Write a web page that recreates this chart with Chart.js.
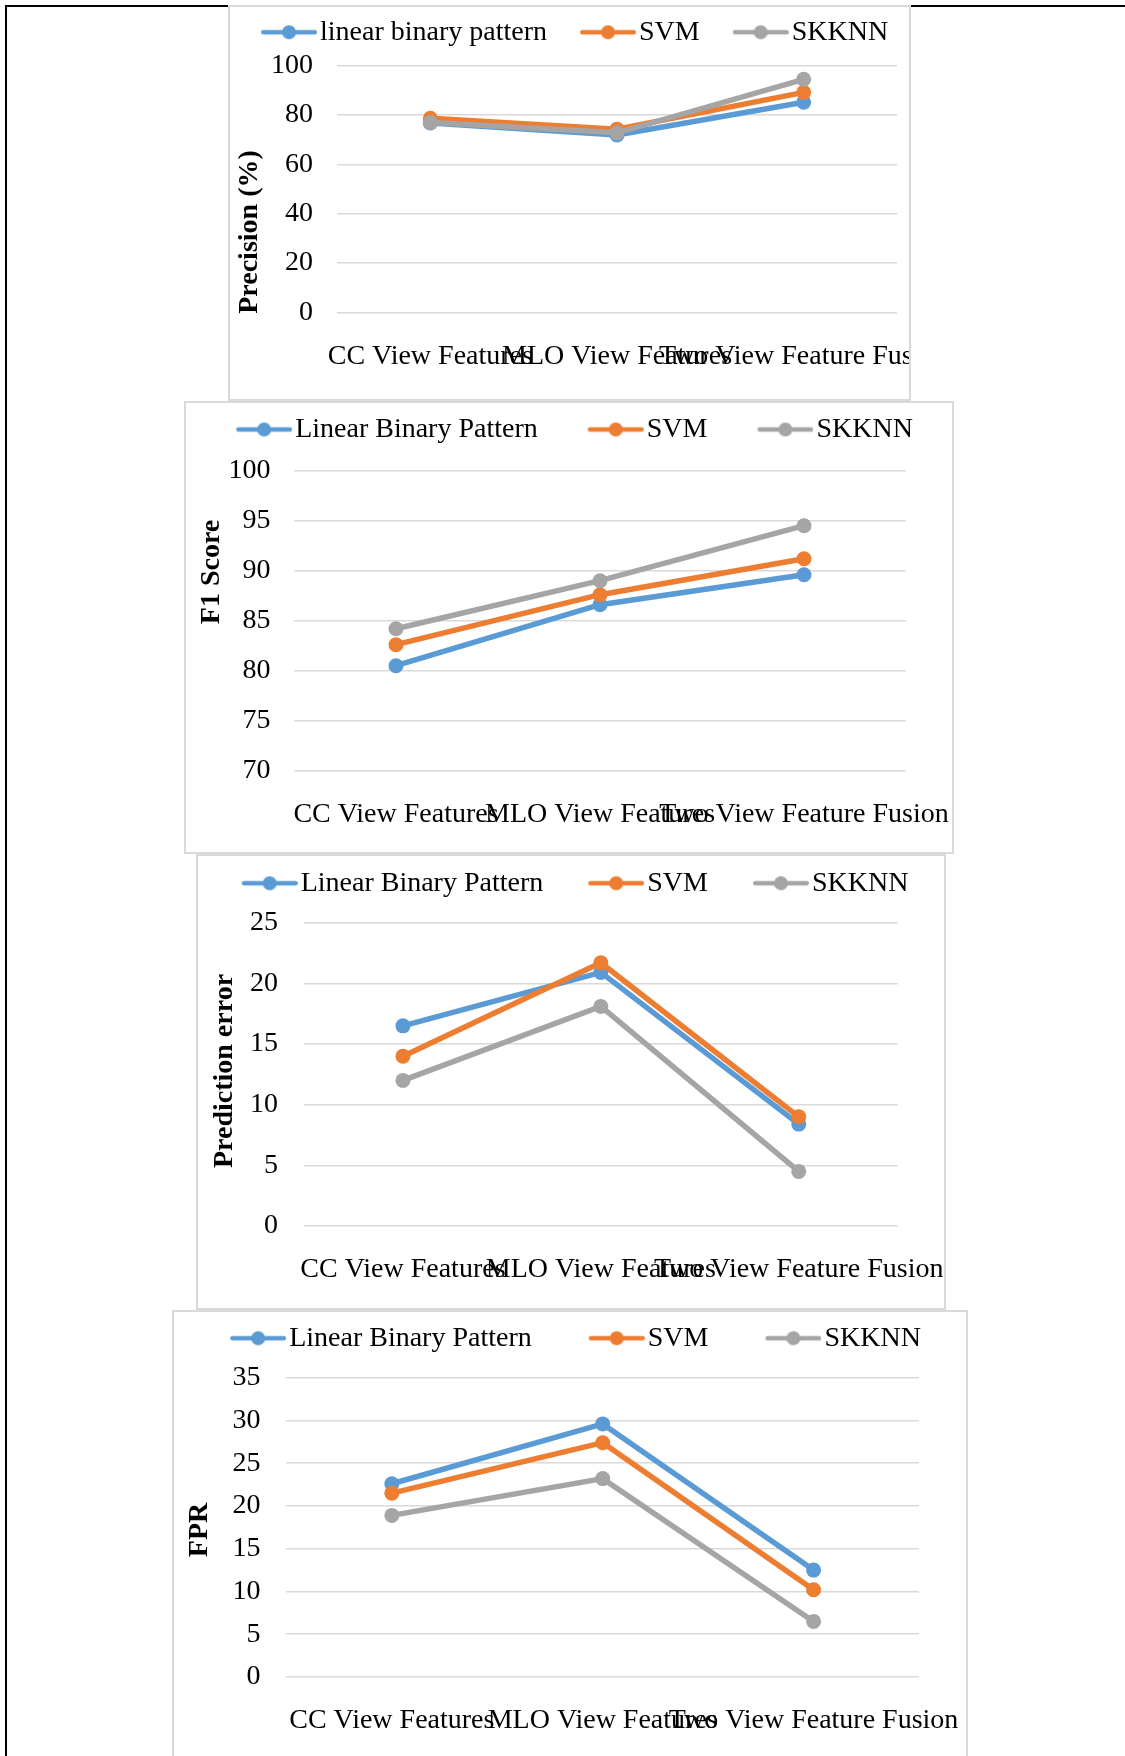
<!DOCTYPE html>
<html>
<head>
<meta charset="utf-8">
<script src="https://cdn.jsdelivr.net/npm/chart.js@4"></script>
<style>
html, body { margin: 0; padding: 0; background: #fff; }
body { width: 1125px; height: 1756px; position: relative; overflow: hidden; }
.rule-top { position: absolute; left: 5px; top: 5px; width: 1120px; height: 2px; background: #000; }
.rule-left { position: absolute; left: 5px; top: 5px; width: 2px; height: 1751px; background: #000; }
.box { position: absolute; background: #fff; border: 2px solid #d9d9d9; }
.box canvas { display: block; }
</style>
</head>
<body>
<div class="rule-top"></div>
<div class="rule-left"></div>
<div class="box" style="left:228px;top:5px;"><canvas id="c1" width="679" height="392"></canvas></div>
<div class="box" style="left:184px;top:401px;"><canvas id="c2" width="766" height="449"></canvas></div>
<div class="box" style="left:196px;top:854px;"><canvas id="c3" width="746" height="452"></canvas></div>
<div class="box" style="left:172px;top:1310px;"><canvas id="c4" width="792" height="456"></canvas></div>
<script>
// data
const categories = ['CC View Features', 'MLO View Features', 'Two View Feature Fusion'];
const namesLower = ['linear binary pattern', 'SVM', 'SKKNN'];
const names = ['Linear Binary Pattern', 'SVM', 'SKKNN'];

const precisionLBP = [76.8, 71.9, 85.2];
const precisionSVM = [78.7, 74.3, 89.2];
const precisionSKKNN = [77.0, 72.8, 94.5];
const precisionTicks = [0, 20, 40, 60, 80, 100];

const f1LBP = [80.5, 86.6, 89.6];
const f1SVM = [82.6, 87.6, 91.2];
const f1SKKNN = [84.2, 89.0, 94.5];
const f1Ticks = [70, 75, 80, 85, 90, 95, 100];

const errLBP = [16.5, 20.9, 8.4];
const errSVM = [14.0, 21.7, 9.0];
const errSKKNN = [12.0, 18.1, 4.5];
const errTicks = [0, 5, 10, 15, 20, 25];

const fprLBP = [22.6, 29.6, 12.5];
const fprSVM = [21.5, 27.4, 10.2];
const fprSKKNN = [18.9, 23.2, 6.5];
const fprTicks = [0, 5, 10, 15, 20, 25, 30, 35];

const FONT = '"Liberation Serif", "Times New Roman", serif';
const FS = 28;
const COLORS = ['#5B9BD5', '#ED7D31', '#A5A5A5'];

// line + dot legend marker; drawn in the right part of a wide icon so the
// gap before the text stays small and the gap between entries comes from bw
function legendIcon(color, bw) {
  const c = document.createElement('canvas');
  c.width = bw + 22; c.height = 16;
  const g = c.getContext('2d');
  const x0 = bw - 34, x1 = bw + 22;
  g.strokeStyle = color;
  g.lineWidth = 4.5;
  g.lineCap = 'round';
  g.beginPath(); g.moveTo(x0 + 2.25, 8); g.lineTo(x1 - 2.25, 8); g.stroke();
  g.fillStyle = color;
  g.beginPath(); g.arc((x0 + x1) / 2, 8, 7, 0, Math.PI * 2); g.fill();
  return c;
}

const yTitlePlugin = {
  id: 'yTitle',
  afterDraw(chart, args, opts) {
    const ctx = chart.ctx;
    ctx.save();
    ctx.translate(opts.x, opts.y);
    ctx.rotate(-Math.PI / 2);
    ctx.font = 'bold ' + FS + 'px ' + FONT;
    ctx.fillStyle = '#000';
    ctx.textAlign = 'center';
    ctx.textBaseline = 'middle';
    ctx.fillText(opts.text, 0, 0);
    ctx.restore();
  }
};

function makeChart(canvasId, spec) {
  const cv = document.getElementById(canvasId);
  const W = cv.width, H = cv.height;
  const p = spec.plot;
  const t = spec.yTicks;
  const bw = spec.legendGap + 45;
  const icons = COLORS.map(c => legendIcon(c, bw));
  const padL = 2 * (spec.legendCenter - spec.legendGap / 2) - W;
  const padT = spec.legendY - FS / 2;
  // empty title block used as a spacer between legend and plot
  const spacer = p.top - padT - (FS + 10);
  return new Chart(cv, {
    type: 'line',
    data: {
      labels: categories,
      datasets: spec.series.map((vals, i) => ({
        label: spec.names[i],
        data: vals,
        borderColor: COLORS[i],
        backgroundColor: COLORS[i],
        pointBackgroundColor: COLORS[i],
        pointBorderColor: COLORS[i],
        borderWidth: 5.5,
        pointRadius: 7.5,
        pointBorderWidth: 0,
        tension: 0,
        fill: false,
        order: 3 - i
      }))
    },
    options: {
      responsive: false,
      animation: false,
      devicePixelRatio: 1,
      layout: {
        padding: { left: padL, right: 0, top: padT, bottom: 0 }
      },
      plugins: {
        tooltip: { enabled: false },
        title: {
          display: true, text: '', weight: 2000,
          font: { size: 1 }, padding: { top: 0, bottom: spacer - 1.2 }
        },
        legend: {
          position: 'top',
          weight: 3000,
          labels: {
            usePointStyle: true,
            pointStyleWidth: bw,
            padding: 0,
            color: '#000',
            font: { family: FONT, size: FS },
            sort: (a, b) => a.datasetIndex - b.datasetIndex,
            generateLabels(chart) {
              const items = Chart.defaults.plugins.legend.labels.generateLabels(chart);
              items.forEach(it => { it.pointStyle = icons[it.datasetIndex]; });
              return items;
            }
          }
        },
        yTitle: spec.title
      },
      scales: {
        x: {
          offset: true,
          grid: { display: false },
          border: { display: false },
          ticks: {
            autoSkip: false, maxRotation: 0, minRotation: 0, padding: 19,
            color: '#000', font: { family: FONT, size: FS }
          },
          afterFit(s) { s.paddingLeft = 0; s.paddingRight = W - p.right; s.height = H - p.bottom; }
        },
        y: {
          min: t[0],
          max: t[t.length - 1],
          ticks: {
            stepSize: t[1] - t[0], autoSkip: false, padding: spec.tickGap,
            color: '#000', font: { family: FONT, size: FS }
          },
          grid: { color: '#d9d9d9', lineWidth: 1.5, drawTicks: false },
          border: { display: false },
          afterFit(s) { s.width = p.left - padL; s.paddingTop = 0; s.paddingBottom = H - p.bottom; }
        }
      }
    },
    plugins: [yTitlePlugin]
  });
}

makeChart('c1', {
  names: namesLower,
  series: [precisionLBP, precisionSVM, precisionSKKNN],
  yTicks: precisionTicks,
  plot: { left: 107, right: 667, top: 58.7, bottom: 305.5 },
  legendGap: 33, legendY: 25.2, legendCenter: 344.6, tickGap: 24,
  title: { text: 'Precision (%)', x: 20, y: 225 }
});
makeChart('c2', {
  names: names,
  series: [f1LBP, f1SVM, f1SKKNN],
  yTicks: f1Ticks,
  plot: { left: 108, right: 720, top: 67.7, bottom: 367.7 },
  legendGap: 50, legendY: 26.5, legendCenter: 388.5, tickGap: 23.5,
  title: { text: 'F1 Score', x: 26, y: 169 }
});
makeChart('c3', {
  names: names,
  series: [errLBP, errSVM, errSKKNN],
  yTicks: errTicks,
  plot: { left: 106, right: 699.7, top: 66.7, bottom: 370 },
  legendGap: 45, legendY: 27.2, legendCenter: 377, tickGap: 26,
  title: { text: 'Prediction error', x: 26.5, y: 215 }
});
makeChart('c4', {
  names: names,
  series: [fprLBP, fprSVM, fprSKKNN],
  yTicks: fprTicks,
  plot: { left: 112.4, right: 745, top: 65.7, bottom: 365 },
  legendGap: 57, legendY: 26.2, legendCenter: 401.5, tickGap: 26,
  title: { text: 'FPR', x: 26, y: 218 }
});
</script>
</body>
</html>
